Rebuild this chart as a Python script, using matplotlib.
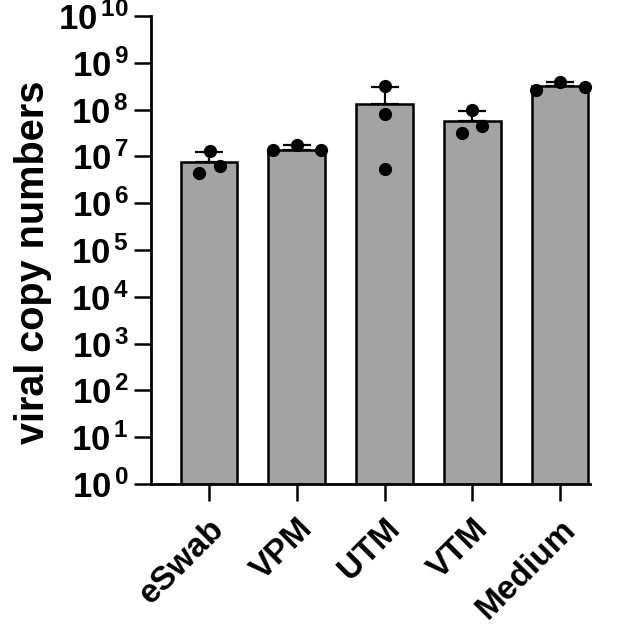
import numpy as np
import matplotlib
matplotlib.use('Agg')
import matplotlib.pyplot as plt
from matplotlib.ticker import FixedLocator, NullLocator

plt.rcParams['font.family'] = ['Liberation Sans', 'DejaVu Sans']
plt.rcParams['mathtext.fontset'] = 'custom'
plt.rcParams['mathtext.rm'] = 'Liberation Sans:bold'
plt.rcParams['mathtext.bf'] = 'Liberation Sans:bold'
plt.rcParams['mathtext.it'] = 'Liberation Sans:bold'

# data
groups = ['eSwab', 'VPM', 'UTM', 'VTM', 'Medium']
means = [7.5e6, 1.37e7, 1.32e8, 5.6e7, 3.19e8]
upper = [1.23e7, 1.74e7, 3.0e8, 9.5e7, 3.8e8]
reps = [
    [4.5e6, 6.2e6, 1.3e7],
    [1.37e7, 1.75e7, 1.37e7],
    [3.2e8, 8.0e7, 5.4e6],
    [3.2e7, 4.5e7, 9.8e7],
    [2.63e8, 3.9e8, 3.1e8],
]
y_exps = list(range(0, 11))

# horizontal spread of the dots (as drawn)
jitter = [
    [-0.11, 0.13, 0.01],
    [-0.27, 0.0, 0.28],
    [0.0, 0.0, 0.0],
    [-0.12, 0.11, 0.0],
    [-0.27, 0.0, 0.28],
]

fig = plt.figure(figsize=(6.23, 6.29), dpi=100)
ax = fig.add_axes([0.2424, 0.2305, 0.7046, 0.7441])
ax.set_yscale('log')

x = np.arange(len(groups))
ax.bar(x, means, width=0.645, color='#a3a3a3', edgecolor='black', linewidth=1.8, zorder=1)
sd = np.array(upper) - np.array(means)
ax.errorbar(x, means, yerr=[np.zeros(len(x)), sd], fmt='none', ecolor='black',
            elinewidth=1.6, capsize=10, capthick=1.6, zorder=2)
for i, vals in enumerate(reps):
    ax.plot(x[i] + np.array(jitter[i]), vals, 'o', color='black', markersize=8.5,
            linestyle='none', zorder=3, clip_on=False)

ax.set_xlim(-0.66, 4.34)
ax.set_ylim(1, 1e10)
ax.yaxis.set_major_locator(FixedLocator([10.0 ** k for k in y_exps]))
ax.yaxis.set_minor_locator(NullLocator())
ax.set_yticklabels([r'$\mathbf{10^{\,%d}}$' % k for k in y_exps], fontsize=25)
ax.set_xticks(x)
ax.set_xticklabels(groups, rotation=45, ha='right', rotation_mode='anchor',
                   fontsize=24, fontweight='bold')

for s in ['top', 'right']:
    ax.spines[s].set_visible(False)
for s in ['left', 'bottom']:
    ax.spines[s].set_linewidth(2)
ax.tick_params(axis='both', length=12, width=1.8, pad=4)
ax.tick_params(axis='x', pad=9)

ax.set_ylabel('viral copy numbers', fontsize=28.5, fontweight='bold')
ax.yaxis.set_label_coords(-0.225, 0.474)

fig.savefig('out.png', dpi=100)
